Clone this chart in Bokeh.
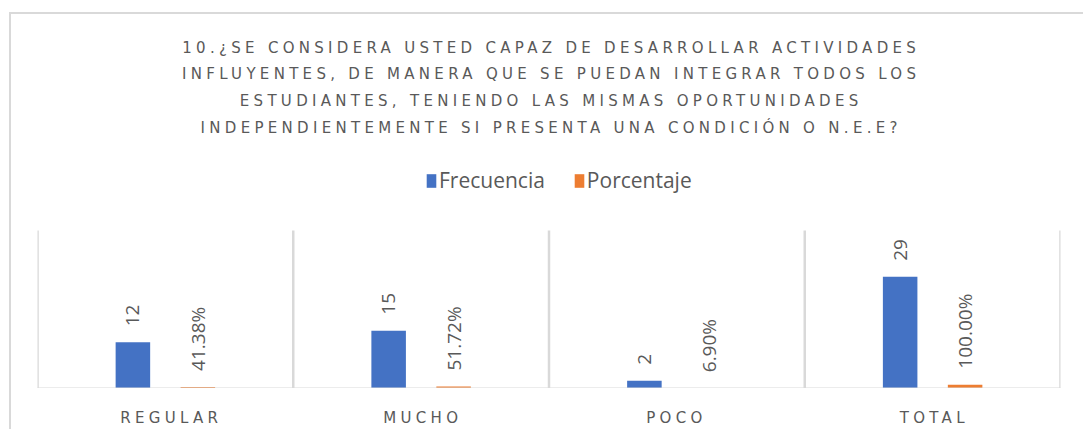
import math
from bokeh.plotting import figure
from bokeh.layouts import column
from bokeh.models import (ColumnDataSource, FactorRange, Range1d, Legend,
                          LegendItem, Span)
from bokeh.transform import dodge
from bokeh.core.properties import value
from bokeh.embed import file_html
from bokeh.resources import INLINE

# ---- data ----
categories = ["REGULAR", "MUCHO", "POCO", "TOTAL"]
frecuencia = [12, 15, 2, 29]
porcentaje = [0.4138, 0.5172, 0.0690, 1.0]
title_lines = [
    "10.¿SE CONSIDERA USTED CAPAZ DE DESARROLLAR ACTIVIDADES",
    "INFLUYENTES, DE MANERA QUE SE PUEDAN INTEGRAR TODOS LOS",
    "ESTUDIANTES, TENIENDO LAS MISMAS OPORTUNIDADES",
    "INDEPENDIENTEMENTE SI PRESENTA UNA CONDICIÓN O N.E.E?",
]
series_names = ["Frecuencia", "Porcentaje"]
axis_max = 41  # hidden value-axis maximum

BLUE = "#4472C4"
ORANGE = "#ED7D31"
GRAY_TXT = "#595959"
GRID = "#d9d9d9"

# layout (px)
FRAME_W = 1023
BAR_AREA_H = 158
FRAME_H = 248
TITLE_H = 126
LINE_PX = 26.7            # title line spacing
FIRST_LINE_PX = 33        # first title line centre from top of title area
LS = 4.3                  # letter spacing for title / category labels
y_end = axis_max * FRAME_H / BAR_AREA_H

common = dict(output_backend="svg", toolbar_location=None)
borders = dict(min_border_left=26, min_border_right=23, min_border_top=0,
               min_border_bottom=0)

# ---------------- title figure ----------------
ft = figure(frame_width=FRAME_W, frame_height=TITLE_H,
            x_range=Range1d(0, 1),
            y_range=Range1d((TITLE_H - FIRST_LINE_PX) / LINE_PX,
                            -FIRST_LINE_PX / LINE_PX),
            x_axis_location=None, y_axis_location=None, **borders, **common)
ft.outline_line_color = None
ft.grid.visible = False
ft.border_fill_color = "white"
ft.styles = {"letter-spacing": f"{LS}px"}
tsrc = ColumnDataSource(dict(
    x=[0.5] * len(title_lines),
    y=list(range(len(title_lines))),
    text=title_lines,
    xo=[-(len(t) - 1) * LS / 2 for t in title_lines],
))
ft.text(x="x", y="y", text="text", x_offset="xo", source=tsrc,
        text_align="center", text_baseline="middle",
        text_font=value("DejaVu Sans"), text_font_size="15px",
        text_color=GRAY_TXT)

# ---------------- main figure ----------------
src = ColumnDataSource(dict(
    cat=categories,
    freq=frecuencia,
    pct=porcentaje,
    freq_lbl=[str(v) for v in frecuencia],
    pct_lbl=[f"{v*100:.2f}%" for v in porcentaje],
))

p = figure(frame_width=FRAME_W, frame_height=FRAME_H,
           x_range=FactorRange(*categories), y_range=Range1d(0, y_end),
           x_axis_location=None, y_axis_location=None, **borders, **common)
p.outline_line_color = None
p.background_fill_color = "white"
p.border_fill_color = "white"
p.grid.visible = False

bounds = list(range(len(categories) + 1))
p.segment(x0=bounds, y0=[0] * len(bounds), x1=bounds, y1=[axis_max] * len(bounds),
          line_color=GRID, line_width=2.5)
p.add_layout(Span(location=0, dimension="width", line_color=GRID, line_width=2))

off = 0.127
bw = 0.135
r1 = p.vbar(x=dodge("cat", -off, range=p.x_range), top="freq", width=bw,
            source=src, fill_color=BLUE, line_color=None)
r2 = p.vbar(x=dodge("cat", off, range=p.x_range), top="pct", width=bw,
            source=src, fill_color=ORANGE, line_color=None)

lbl_kw = dict(angle=math.pi / 2, text_align="left", text_baseline="middle",
              y_offset=-16, text_font=value("Open Sans"), text_font_size="19px",
              text_color=GRAY_TXT, source=src)
p.text(x=dodge("cat", -off, range=p.x_range), y="freq", text="freq_lbl", **lbl_kw)
p.text(x=dodge("cat", off, range=p.x_range), y="pct", text="pct_lbl", **lbl_kw)

legend = Legend(items=[LegendItem(label=series_names[0], renderers=[r1]),
                       LegendItem(label=series_names[1], renderers=[r2])],
                orientation="horizontal", location=(388, 194),
                label_text_font="Open Sans", label_text_font_size="21px",
                label_text_color=GRAY_TXT, glyph_width=12, glyph_height=17,
                label_standoff=2, spacing=28, padding=0, margin=0,
                border_line_color=None, background_fill_alpha=0)
p.add_layout(legend, "center")

# ---------------- category axis figure ----------------
shift = sum((len(c) - 1) * LS / 2 for c in categories) / len(categories)
fa = figure(frame_width=FRAME_W, frame_height=14,
            x_range=FactorRange(*categories), y_range=Range1d(0, 1),
            y_axis_location=None, **borders, **common)
fa.outline_line_color = None
fa.grid.visible = False
fa.border_fill_alpha = 0
fa.background_fill_alpha = 0
fa.styles = {"letter-spacing": f"{LS}px", "transform": f"translateX(-{shift:.1f}px)"}
ax = fa.xaxis[0]
ax.axis_line_color = None
ax.major_tick_line_color = None
ax.minor_tick_line_color = None
ax.major_label_standoff = 0
ax.major_label_text_font = "DejaVu Sans"
ax.major_label_text_font_size = "15px"
ax.major_label_text_color = GRAY_TXT

layout = column(ft, p, fa, spacing=0)
layout.styles = {"margin-left": "9px", "margin-top": "12px",
                 "border-top": "2px solid #d9d9d9",
                 "border-left": "2px solid #d9d9d9"}

open("out.html", "w").write(file_html(layout, INLINE))
